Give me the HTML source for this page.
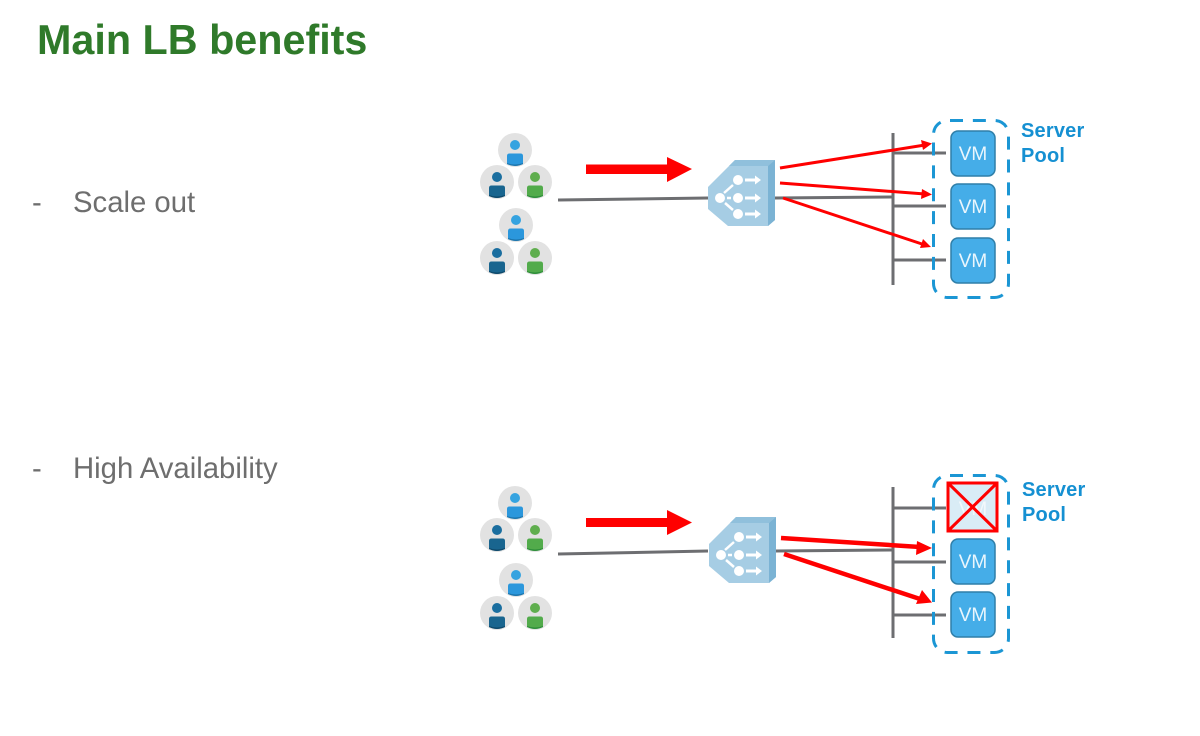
<!DOCTYPE html>
<html>
<head>
<meta charset="utf-8">
<style>
html,body{margin:0;padding:0;background:#fff}
svg{display:block}
text{font-family:"Liberation Sans",sans-serif}
</style>
</head>
<body>
<svg width="1200" height="736" viewBox="0 0 1200 736" xmlns="http://www.w3.org/2000/svg">
<defs>
  <g id="blue"><circle r="17" fill="#e2e2e2"/><circle cy="-5" r="5" fill="#35a3e0"/><path d="M-8 6q0-2.500 2.500-2.500h11q2.500 0 2.500 2.500v8q-8 3.500-16 0z" fill="#2b97dc"/><path d="M-8 13q8 3 16 0v1q-8 4-16 0z" fill="#1d76ad"/></g>
  <g id="navy"><circle r="17" fill="#e2e2e2"/><circle cy="-5" r="5" fill="#1a6e9f"/><path d="M-8 6q0-2.500 2.500-2.500h11q2.500 0 2.500 2.500v8q-8 3.500-16 0z" fill="#19658f"/><path d="M-8 13q8 3 16 0v1q-8 4-16 0z" fill="#0f4a6c"/></g>
  <g id="green"><circle r="17" fill="#e2e2e2"/><circle cy="-5" r="5" fill="#5fae4e"/><path d="M-8 6q0-2.500 2.500-2.500h11q2.500 0 2.500 2.500v8q-8 3.500-16 0z" fill="#52ab4b"/><path d="M-8 13q8 3 16 0v1q-8 4-16 0z" fill="#2f8f3a"/></g>
  <g id="users">
    <use href="#blue" x="515" y="150"/><use href="#navy" x="497" y="182"/><use href="#green" x="535" y="182"/>
  </g>
  <g id="lb">
    <polygon points="735,160 775,160 775,220 768,226 728,226 708,209 708,187" fill="#a6cde4"/>
    <polygon points="735,160 775,160 768,166 729,166" fill="#90c0dc"/>
    <polygon points="768,166 775,160 775,220 768,226" fill="#7bb3d4"/>
    <g fill="#fff"><circle cx="720" cy="198" r="5"/><circle cx="738" cy="180" r="5"/><circle cx="738" cy="198" r="5"/><circle cx="738" cy="214" r="5"/>
      <polygon points="745,178.500 755,178.500 755,175.500 761,180 755,184.500 755,181.500 745,181.500"/>
      <polygon points="745,196.500 755,196.500 755,193.500 761,198 755,202.500 755,199.500 745,199.500"/>
      <polygon points="745,212.500 755,212.500 755,209.500 761,214 755,218.500 755,215.500 745,215.500"/></g>
    <g stroke="#fff" stroke-width="2.500"><line x1="724" y1="193" x2="733" y2="185"/><line x1="727" y1="198" x2="731" y2="198"/><line x1="725" y1="203" x2="733" y2="210"/></g>
  </g>
  <g id="vm"><rect x="951" y="0" width="44" height="45" rx="7" fill="#45ade8" stroke="#2f7fa9" stroke-width="1.500"/></g>
</defs>

<text x="37" y="54" font-size="41.300" font-weight="700" fill="#2f7a2a">Main LB benefits</text>
<text x="32" y="212" font-size="29.300" fill="#6e6e6e">-</text>
<text x="73" y="212" font-size="29.300" fill="#6e6e6e">Scale out</text>
<text x="32" y="478" font-size="29.300" fill="#6e6e6e">-</text>
<text x="73" y="478" font-size="29.300" fill="#6e6e6e">High Availability</text>

<!-- Top diagram -->
<use href="#users"/>
<use href="#blue" x="516" y="225"/><use href="#navy" x="497" y="258"/><use href="#green" x="535" y="258"/>
<line x1="558" y1="200" x2="708" y2="198" stroke="#6d6e71" stroke-width="3"/>
<line x1="775" y1="198" x2="893" y2="197" stroke="#6d6e71" stroke-width="3"/>
<polygon points="586,164.500 667,164.500 667,157 692,169 667,182 667,174 586,174" fill="#ff0000"/>
<use href="#lb"/>
<g stroke="#6d6e71" stroke-width="3"><line x1="893" y1="133" x2="893" y2="285"/><line x1="893" y1="153" x2="946" y2="153"/><line x1="893" y1="206" x2="946" y2="206"/><line x1="893" y1="260" x2="946" y2="260"/></g>
<rect x="933.500" y="120.500" width="75" height="177" rx="14" fill="none" stroke="#1b96d4" stroke-width="3" stroke-dasharray="13 9.860" stroke-dashoffset="-2.500"/>
<use href="#vm" y="131"/><use href="#vm" y="184"/><use href="#vm" y="238"/>
<g font-size="19" fill="#eaf6fd" text-anchor="middle"><text x="973" y="160">VM</text><text x="973" y="213">VM</text><text x="973" y="267">VM</text></g>
<g stroke="#ff0000" stroke-width="3"><line x1="780" y1="168" x2="925" y2="145"/><line x1="780" y1="183" x2="925" y2="194"/><line x1="783" y1="198" x2="925" y2="245"/></g>
<g fill="#ff0000"><polygon points="932,143.500 921,140 923,150"/><polygon points="932,194.500 922,189 921,199"/><polygon points="931,247 923,239 920,248"/></g>
<text font-size="20" font-weight="700" letter-spacing="0.200" fill="#1590d2"><tspan x="1021" y="137">Server</tspan><tspan x="1021" y="162">Pool</tspan></text>

<!-- Bottom diagram -->
<use href="#users" y="353"/>
<use href="#blue" x="516" y="580"/><use href="#navy" x="497" y="613"/><use href="#green" x="535" y="613"/>
<line x1="558" y1="554" x2="708" y2="551" stroke="#6d6e71" stroke-width="3"/>
<line x1="775" y1="551" x2="893" y2="550" stroke="#6d6e71" stroke-width="3"/>
<polygon points="586,518 667,518 667,510 692,522.500 667,535 667,527 586,527" fill="#ff0000"/>
<use href="#lb" x="1" y="357"/>
<g stroke="#6d6e71" stroke-width="3"><line x1="893" y1="487" x2="893" y2="638"/><line x1="893" y1="508" x2="946" y2="508"/><line x1="893" y1="562" x2="946" y2="562"/><line x1="893" y1="615" x2="946" y2="615"/></g>
<rect x="933.500" y="475.500" width="75" height="177" rx="14" fill="none" stroke="#1b96d4" stroke-width="3" stroke-dasharray="13 9.860" stroke-dashoffset="-2.500"/>
<rect x="948" y="483" width="49" height="48" fill="#d9ecf6" stroke="#ff0000" stroke-width="3"/>
<text x="973" y="515" font-size="19" fill="#f3f9fc" text-anchor="middle">VM</text>
<line x1="948" y1="483" x2="997" y2="531" stroke="#ff0000" stroke-width="3"/>
<line x1="997" y1="483" x2="948" y2="531" stroke="#ff0000" stroke-width="3"/>
<use href="#vm" y="539"/><use href="#vm" y="592"/>
<g font-size="19" fill="#eaf6fd" text-anchor="middle"><text x="973" y="568">VM</text><text x="973" y="621">VM</text></g>
<g stroke="#ff0000" stroke-width="4.500"><line x1="781" y1="538" x2="920" y2="547"/><line x1="784" y1="554" x2="920" y2="599"/></g>
<g fill="#ff0000"><polygon points="932,548 917,541 916,555"/><polygon points="932,602.500 922,590 916,604"/></g>
<text font-size="20" font-weight="700" letter-spacing="0.200" fill="#1590d2"><tspan x="1022" y="496">Server</tspan><tspan x="1022" y="521">Pool</tspan></text>
</svg>
</body>
</html>
